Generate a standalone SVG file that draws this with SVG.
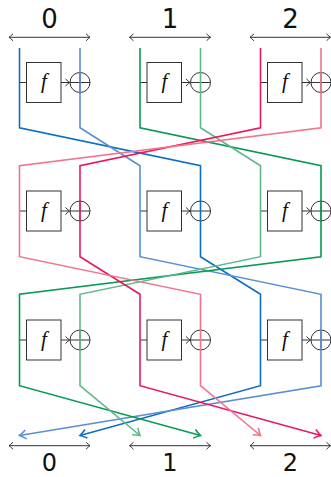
<svg xmlns="http://www.w3.org/2000/svg" width="331" height="477" viewBox="0 0 331 477">
  <style>
    .lbl{font-family:"DejaVu Sans",sans-serif;font-size:26px;fill:#111;text-anchor:middle}
    .lbl.b{font-size:24px}
    .fn{font-family:"Liberation Serif",serif;font-style:italic;font-size:21px;fill:#111;text-anchor:middle}
    .box{fill:none;stroke:#333;stroke-width:1}
    .thin{fill:none;stroke:#333;stroke-width:1}
    .wire{fill:none;stroke-width:1.6;stroke-linejoin:miter}
  </style>
  <defs>
    <marker id="tip" viewBox="-5 -4 6 8" refX="0" refY="0" markerWidth="6" markerHeight="8" markerUnits="userSpaceOnUse" orient="auto-start-reverse" overflow="visible">
      <path d="M-4,-3.5 Q-1.2,-0.8 0,0 Q-1.2,0.8 -4,3.5" fill="none" stroke="#333" stroke-width="1"/>
    </marker>
    <marker id="tDB" viewBox="-7 -5 8 10" markerWidth="8" markerHeight="10" markerUnits="userSpaceOnUse" orient="auto" overflow="visible">
      <path d="M-6.5,-4.5 Q-2,-1 0,0 Q-2,1 -6.5,4.5" fill="none" stroke="#0e6ec0" stroke-width="1.6"/>
    </marker>
    <marker id="tLB" viewBox="-7 -5 8 10" markerWidth="8" markerHeight="10" markerUnits="userSpaceOnUse" orient="auto" overflow="visible">
      <path d="M-6.5,-4.5 Q-2,-1 0,0 Q-2,1 -6.5,4.5" fill="none" stroke="#5a8ed8" stroke-width="1.6"/>
    </marker>
    <marker id="tDG" viewBox="-7 -5 8 10" markerWidth="8" markerHeight="10" markerUnits="userSpaceOnUse" orient="auto" overflow="visible">
      <path d="M-6.5,-4.5 Q-2,-1 0,0 Q-2,1 -6.5,4.5" fill="none" stroke="#0a9a55" stroke-width="1.6"/>
    </marker>
    <marker id="tLG" viewBox="-7 -5 8 10" markerWidth="8" markerHeight="10" markerUnits="userSpaceOnUse" orient="auto" overflow="visible">
      <path d="M-6.5,-4.5 Q-2,-1 0,0 Q-2,1 -6.5,4.5" fill="none" stroke="#5fb88a" stroke-width="1.6"/>
    </marker>
    <marker id="tCR" viewBox="-7 -5 8 10" markerWidth="8" markerHeight="10" markerUnits="userSpaceOnUse" orient="auto" overflow="visible">
      <path d="M-6.5,-4.5 Q-2,-1 0,0 Q-2,1 -6.5,4.5" fill="none" stroke="#e8195e" stroke-width="1.6"/>
    </marker>
    <marker id="tPK" viewBox="-7 -5 8 10" markerWidth="8" markerHeight="10" markerUnits="userSpaceOnUse" orient="auto" overflow="visible">
      <path d="M-6.5,-4.5 Q-2,-1 0,0 Q-2,1 -6.5,4.5" fill="none" stroke="#f0748c" stroke-width="1.6"/>
    </marker>
    <!-- one round block: input tick, f box, arrow, xor -->
    <g id="blk">
      <line class="thin" x1="0" y1="0" x2="7" y2="0"/>
      <rect class="box" x="7" y="-20" width="34.5" height="40"/>
      <text class="fn" x="24.5" y="5.5">f</text>
      <line class="thin" x1="41.5" y1="0" x2="50" y2="0" marker-end="url(#tip)"/>
      <circle class="thin" cx="60.5" cy="0" r="10"/>
      <line class="thin" x1="50.5" y1="0" x2="70.5" y2="0"/>
      <line class="thin" x1="60.5" y1="-10" x2="60.5" y2="10"/>
    </g>
  </defs>

  <!-- lane labels and widths -->
  <g id="top-labels">
    <text class="lbl" x="49.5" y="28.3">0</text>
    <text class="lbl" x="170" y="28.3">1</text>
    <text class="lbl" x="290.5" y="28.3">2</text>
    <line class="thin" x1="9" y1="37.3" x2="90" y2="37.3" marker-start="url(#tip)" marker-end="url(#tip)"/>
    <line class="thin" x1="129.5" y1="37.3" x2="210.5" y2="37.3" marker-start="url(#tip)" marker-end="url(#tip)"/>
    <line class="thin" x1="250" y1="37.3" x2="330.5" y2="37.3" marker-start="url(#tip)" marker-end="url(#tip)"/>
  </g>
  <g id="bottom-labels">
    <line class="thin" x1="9" y1="445.7" x2="90" y2="445.7" marker-start="url(#tip)" marker-end="url(#tip)"/>
    <line class="thin" x1="129.5" y1="445.7" x2="210.5" y2="445.7" marker-start="url(#tip)" marker-end="url(#tip)"/>
    <line class="thin" x1="250" y1="445.7" x2="330.5" y2="445.7" marker-start="url(#tip)" marker-end="url(#tip)"/>
    <text class="lbl b" x="49.5" y="471">0</text>
    <text class="lbl b" x="170" y="471">1</text>
    <text class="lbl b" x="290.5" y="471">2</text>
  </g>

  <!-- round blocks -->
  <g id="r1c0"><use href="#blk" x="19.5" y="82.5"/></g>
  <g id="r1c1"><use href="#blk" x="140" y="82.5"/></g>
  <g id="r1c2"><use href="#blk" x="260.5" y="82.5"/></g>
  <g id="r2c0"><use href="#blk" x="19.5" y="211"/></g>
  <g id="r2c1"><use href="#blk" x="140" y="211"/></g>
  <g id="r2c2"><use href="#blk" x="260.5" y="211"/></g>
  <g id="r3c0"><use href="#blk" x="19.5" y="340"/></g>
  <g id="r3c1"><use href="#blk" x="140" y="340"/></g>
  <g id="r3c2"><use href="#blk" x="260.5" y="340"/></g>

  <!-- wires: each lane half moves one lane right and swaps sides per round -->
  <g id="wires">
    <polyline class="wire" stroke="#0e6ec0" marker-end="url(#tDB)" points="19.5,48 19.5,127.8 200.5,165.7 200.5,256.7 260.5,294.3 260.5,385.7 80,435.5"/>
    <polyline class="wire" stroke="#5a8ed8" marker-end="url(#tLB)" points="80,48 80,127.8 140,165.7 140,256.7 321,294.3 321,385.7 19.5,435.5"/>
    <polyline class="wire" stroke="#0a9a55" marker-end="url(#tDG)" points="140,48 140,127.8 321,165.7 321,256.7 19.5,294.3 19.5,385.7 200.5,435.5"/>
    <polyline class="wire" stroke="#5fb88a" marker-end="url(#tLG)" points="200.5,48 200.5,127.8 260.5,165.7 260.5,256.7 80,294.3 80,385.7 140,435.5"/>
    <polyline class="wire" stroke="#e8195e" marker-end="url(#tCR)" points="260.5,48 260.5,127.8 80,165.7 80,256.7 140,294.3 140,385.7 321,435.5"/>
    <polyline class="wire" stroke="#f0748c" marker-end="url(#tPK)" points="321,48 321,127.8 19.5,165.7 19.5,256.7 200.5,294.3 200.5,385.7 260.5,435.5"/>
  </g>
</svg>
